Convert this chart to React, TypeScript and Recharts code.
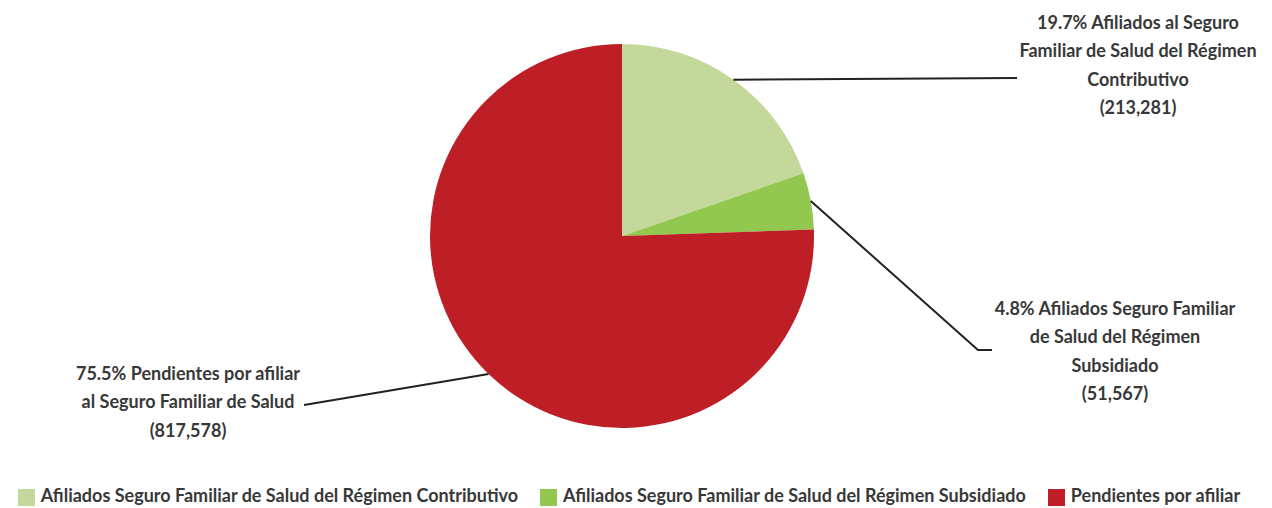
import React from "react";
import { PieChart, Pie, Cell, Legend } from "recharts";

const categories = [
  "Afiliados Seguro Familiar de Salud del Régimen Contributivo",
  "Afiliados Seguro Familiar de Salud del Régimen Subsidiado",
  "Pendientes por afiliar",
];
const values = [213281, 51567, 817578];
const percentLabels = ["19.7%", "4.8%", "75.5%"];
const labelLines = [
  ["Afiliados al Seguro", "Familiar de Salud del Régimen", "Contributivo"],
  ["Afiliados Seguro Familiar", "de Salud del Régimen", "Subsidiado"],
  ["Pendientes por afiliar", "al Seguro Familiar de Salud"],
];
const colors = ["#c4d89b", "#92c850", "#be1e25"];

const data = categories.map((name, i) => ({ name, value: values[i] }));

// label layout: leader line end points and text block placement
const labelLayout = [
  { points: [[1017, 78]], tx: 1138, ty: 22 },
  { points: [[978, 350], [992, 350]], tx: 1115, ty: 308 },
  { points: [[304, 405]], tx: 188, ty: 373 },
];

const FONT = "Lato, Roboto, sans-serif";
const TEXT_COLOR = "#383838";
const RADIAN = Math.PI / 180;

const fmt = (v: number) => v.toLocaleString("en-US");

const renderLabel = (props: any) => {
  const { cx, cy, midAngle, outerRadius, index } = props;
  const sx = cx + outerRadius * Math.cos(-midAngle * RADIAN);
  const sy = cy + outerRadius * Math.sin(-midAngle * RADIAN);
  const lay = labelLayout[index];
  const pts = [[sx, sy], ...lay.points];
  const d = pts.map((p, i) => `${i === 0 ? "M" : "L"}${p[0]},${p[1]}`).join(" ");
  const lines = [...labelLines[index]];
  lines[0] = `${percentLabels[index]} ${lines[0]}`;
  lines.push(`(${fmt(values[index])})`);
  return (
    <g key={`lbl-${index}`}>
      <path d={d} stroke="#222" strokeWidth={2} fill="none" />
      <text
        x={lay.tx}
        y={lay.ty}
        textAnchor="middle"
        fontFamily={FONT}
        fontSize={18}
        fontWeight={700}
        fill={TEXT_COLOR}
      >
        {lines.map((t, i) => (
          <tspan key={i} x={lay.tx} y={lay.ty + i * 28.3} dominantBaseline="central">
            {t}
          </tspan>
        ))}
      </text>
    </g>
  );
};

export default function App() {
  return (
    <div style={{ position: "absolute", left: 0, top: 0, background: "#fff" }}>
      <style>{`.recharts-legend-item { margin-right: 22px !important; } .recharts-legend-item svg { margin-right: 6px !important; }`}</style>
      <PieChart width={1272} height={508} margin={{ top: 0, right: 0, bottom: 0, left: 0 }}>
        <Pie
          data={data}
          dataKey="value"
          nameKey="name"
          cx={622}
          cy={236}
          outerRadius={192}
          startAngle={90}
          endAngle={-270}
          stroke="none"
          label={renderLabel}
          labelLine={false}
          isAnimationActive={false}
        >
          {data.map((d, i) => (
            <Cell key={d.name} fill={colors[i]} />
          ))}
        </Pie>
        <Legend
          verticalAlign="bottom"
          align="center"
          iconType="square"
          iconSize={17}
          wrapperStyle={{ bottom: 2, left: 4, fontFamily: FONT, fontSize: 18, fontWeight: 700 }}
          formatter={(v: string) => <span style={{ color: TEXT_COLOR }}>{v}</span>}
        />
      </PieChart>
    </div>
  );
}
